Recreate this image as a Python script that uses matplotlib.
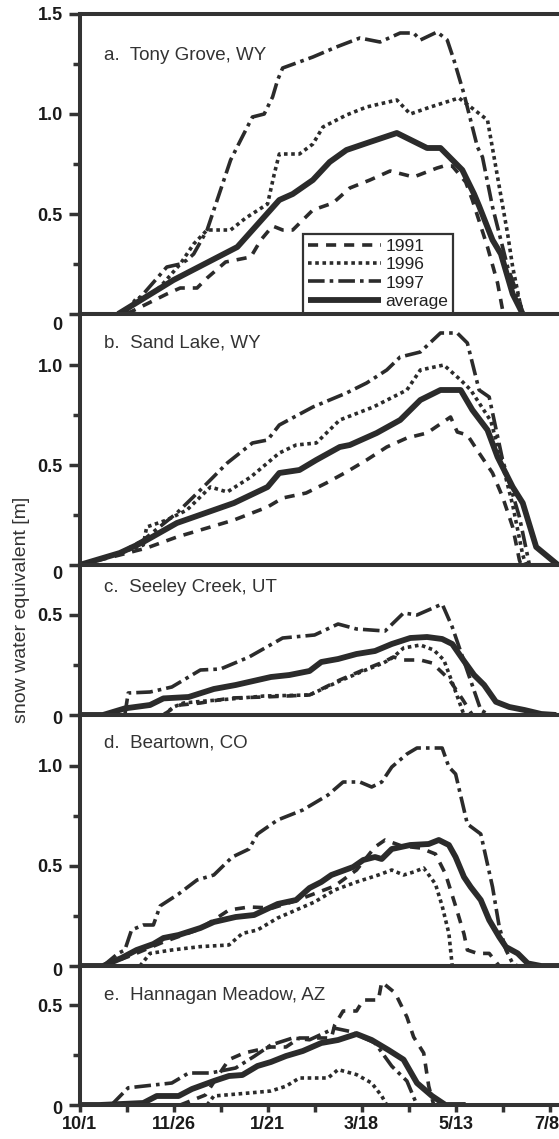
import matplotlib
matplotlib.use('Agg')
import matplotlib.pyplot as plt
import matplotlib.transforms as mtransforms

plt.rcParams['font.family'] = ['Liberation Sans', 'DejaVu Sans']

# ---------------- data (days since 10/1, snow water equivalent in m) -------------
tick_days = [0, 28, 56, 84, 112, 140, 168, 196, 224, 252, 280]
tick_labels = ['10/1', '', '11/26', '', '1/21', '', '3/18', '', '5/13', '', '7/8']
series_names = ['1991', '1996', '1997', 'average']

# a. Tony Grove, WY
a_1991_day = [28, 40, 52, 60, 70, 76, 87, 102, 108, 115, 121, 127, 139, 151, 161, 173, 185, 199, 213, 217, 222, 230, 234, 243, 249, 252, 253]
a_1991_swe = [0, 0.05, 0.10, 0.13, 0.13, 0.18, 0.26, 0.285, 0.37, 0.44, 0.42, 0.42, 0.52, 0.555, 0.63, 0.67, 0.715, 0.685, 0.73, 0.74, 0.74, 0.66, 0.57, 0.335, 0.155, 0.02, 0]
a_1996_day = [27, 34, 40, 48, 60, 68, 76, 90, 99, 112, 116, 119, 131, 139, 145, 159, 171, 189, 197, 209, 226, 243, 249, 255, 258, 262, 264]
a_1996_swe = [0, 0.08, 0.085, 0.135, 0.25, 0.35, 0.42, 0.42, 0.48, 0.55, 0.70, 0.80, 0.80, 0.85, 0.935, 0.995, 1.035, 1.07, 1.0, 1.035, 1.08, 0.97, 0.685, 0.40, 0.235, 0.07, 0]
a_1997_day = [26, 38, 52, 60, 64, 68, 76, 82, 90, 96, 103, 110, 115, 118, 121, 139, 153, 167, 179, 191, 199, 203, 213, 219, 223, 229, 237, 240, 246, 255, 262, 264]
a_1997_swe = [0, 0.10, 0.235, 0.25, 0.27, 0.30, 0.42, 0.57, 0.77, 0.87, 0.985, 1.0, 1.085, 1.17, 1.23, 1.285, 1.335, 1.38, 1.36, 1.405, 1.405, 1.37, 1.41, 1.37, 1.27, 1.10, 0.835, 0.785, 0.535, 0.235, 0.07, 0]
a_avg_day = [23, 56, 94, 119, 127, 139, 149, 159, 173, 189, 207, 215, 228, 235, 238, 246, 251, 258, 264]
a_avg_swe = [0, 0.17, 0.335, 0.57, 0.60, 0.67, 0.76, 0.82, 0.86, 0.905, 0.83, 0.83, 0.72, 0.60, 0.54, 0.37, 0.30, 0.10, 0]

# b. Sand Lake, WY
b_1991_day = [0, 24, 40, 58, 72, 92, 112, 121, 135, 147, 159, 171, 183, 195, 207, 221, 225, 231, 238, 246, 252, 258, 262, 263]
b_1991_swe = [0, 0.05, 0.085, 0.14, 0.175, 0.225, 0.29, 0.335, 0.36, 0.41, 0.465, 0.525, 0.59, 0.635, 0.66, 0.74, 0.665, 0.65, 0.56, 0.46, 0.34, 0.19, 0.025, 0]
b_1996_day = [0, 24, 38, 40, 52, 64, 78, 88, 102, 119, 129, 141, 155, 175, 195, 203, 217, 227, 233, 245, 252, 258, 264, 266]
b_1996_swe = [0, 0.06, 0.10, 0.19, 0.225, 0.275, 0.39, 0.365, 0.44, 0.56, 0.60, 0.61, 0.725, 0.79, 0.875, 0.975, 1.0, 0.925, 0.875, 0.72, 0.5, 0.3, 0.05, 0]
b_1997_day = [0, 24, 38, 58, 72, 88, 103, 112, 119, 139, 159, 171, 183, 191, 203, 215, 225, 231, 238, 244, 252, 262, 268]
b_1997_swe = [0, 0.06, 0.125, 0.26, 0.375, 0.51, 0.61, 0.625, 0.70, 0.79, 0.86, 0.91, 0.975, 1.04, 1.065, 1.16, 1.16, 1.11, 0.875, 0.84, 0.525, 0.24, 0]
b_avg_day = [0, 24, 38, 58, 92, 112, 119, 131, 141, 155, 161, 177, 191, 203, 215, 227, 234, 243, 249, 258, 264, 272, 285]
b_avg_swe = [0, 0.06, 0.115, 0.21, 0.31, 0.39, 0.46, 0.475, 0.525, 0.59, 0.60, 0.66, 0.725, 0.825, 0.875, 0.875, 0.775, 0.675, 0.54, 0.39, 0.31, 0.09, 0.0]

# c. Seeley Creek, UT
c_1991_day = [50, 55, 60, 72, 90, 110, 137, 155, 169, 181, 187, 193, 203, 210, 220, 228, 234]
c_1991_swe = [0, 0.03, 0.05, 0.06, 0.085, 0.09, 0.10, 0.175, 0.225, 0.265, 0.29, 0.275, 0.275, 0.26, 0.18, 0.08, 0]
c_1996_day = [50, 56, 62, 75, 90, 110, 137, 155, 169, 181, 187, 193, 203, 211, 217, 223, 229]
c_1996_swe = [0, 0.04, 0.06, 0.07, 0.08, 0.095, 0.10, 0.17, 0.22, 0.26, 0.29, 0.335, 0.35, 0.325, 0.275, 0.14, 0]
c_1997_day = [27, 29, 42, 55, 72, 84, 101, 121, 140, 154, 165, 182, 193, 201, 216, 222, 231, 239, 244]
c_1997_swe = [0, 0.11, 0.115, 0.14, 0.225, 0.23, 0.29, 0.385, 0.40, 0.455, 0.43, 0.42, 0.51, 0.50, 0.555, 0.44, 0.22, 0.025, 0]
c_avg_day = [0, 14, 27, 42, 50, 65, 80, 93, 114, 125, 137, 144, 154, 165, 176, 186, 197, 207, 216, 222, 229, 235, 241, 248, 256, 265, 275, 284]
c_avg_swe = [0, 0, 0.033, 0.05, 0.083, 0.09, 0.13, 0.15, 0.19, 0.20, 0.22, 0.265, 0.28, 0.305, 0.32, 0.355, 0.385, 0.39, 0.38, 0.355, 0.27, 0.20, 0.15, 0.066, 0.04, 0.025, 0.005, 0]

# d. Beartown, CO
d_1991_day = [14, 30, 50, 70, 80, 89, 101, 115, 130, 152, 165, 176, 182, 192, 203, 212, 218, 224, 229, 231, 237, 244, 250]
d_1991_swe = [0, 0.05, 0.12, 0.18, 0.23, 0.28, 0.295, 0.29, 0.33, 0.40, 0.48, 0.595, 0.63, 0.60, 0.59, 0.56, 0.46, 0.30, 0.16, 0.08, 0.063, 0.063, 0]
d_1996_day = [36, 42, 55, 72, 89, 97, 106, 118, 129, 140, 152, 165, 178, 186, 193, 199, 205, 212, 216, 220, 222]
d_1996_swe = [0, 0.063, 0.08, 0.097, 0.105, 0.163, 0.18, 0.24, 0.28, 0.32, 0.38, 0.42, 0.455, 0.48, 0.455, 0.47, 0.49, 0.41, 0.30, 0.163, 0]
d_1997_day = [14, 23, 27, 31, 38, 44, 48, 59, 70, 80, 91, 101, 106, 118, 133, 148, 157, 167, 174, 180, 186, 195, 201, 216, 220, 224, 231, 239, 246, 250, 254, 258, 261]
d_1997_swe = [0, 0.063, 0.08, 0.18, 0.205, 0.205, 0.30, 0.36, 0.43, 0.455, 0.545, 0.585, 0.66, 0.73, 0.78, 0.855, 0.92, 0.92, 0.895, 0.92, 0.995, 1.06, 1.09, 1.09, 0.995, 0.96, 0.71, 0.66, 0.395, 0.196, 0.08, 0.013, 0]
d_avg_day = [0, 14, 25, 34, 44, 50, 59, 72, 80, 93, 104, 118, 129, 137, 144, 150, 163, 169, 176, 180, 186, 197, 208, 214, 220, 224, 229, 233, 239, 244, 250, 254, 261, 267, 275, 290]
d_avg_swe = [0, 0, 0.04, 0.08, 0.11, 0.14, 0.155, 0.19, 0.22, 0.245, 0.255, 0.31, 0.33, 0.39, 0.42, 0.455, 0.495, 0.53, 0.545, 0.535, 0.585, 0.605, 0.61, 0.63, 0.605, 0.545, 0.445, 0.395, 0.33, 0.23, 0.145, 0.095, 0.063, 0.013, 0, 0]

# e. Hannagan Meadow, AZ
e_1991_day = [60, 75, 82, 89, 98, 114, 123, 131, 150, 152, 157, 165, 169, 178, 180, 188, 195, 199, 205, 208, 211]
e_1991_swe = [0, 0.05, 0.14, 0.227, 0.26, 0.29, 0.29, 0.335, 0.335, 0.40, 0.47, 0.47, 0.525, 0.525, 0.615, 0.56, 0.44, 0.34, 0.26, 0.094, 0]
e_1996_day = [76, 80, 101, 114, 123, 131, 148, 154, 165, 174, 180, 183]
e_1996_swe = [0, 0.045, 0.06, 0.07, 0.094, 0.135, 0.135, 0.177, 0.152, 0.11, 0.045, 0]
e_1997_day = [19, 29, 55, 65, 78, 93, 104, 114, 127, 137, 152, 161, 176, 186, 195, 201]
e_1997_swe = [0, 0.086, 0.11, 0.16, 0.16, 0.185, 0.243, 0.30, 0.335, 0.326, 0.384, 0.368, 0.31, 0.194, 0.12, 0]
e_avg_day = [0, 12, 38, 46, 59, 67, 80, 89, 97, 106, 114, 123, 133, 144, 154, 165, 174, 184, 193, 201, 210, 218, 230]
e_avg_swe = [0, 0, 0.01, 0.045, 0.045, 0.08, 0.12, 0.145, 0.15, 0.195, 0.215, 0.245, 0.27, 0.31, 0.325, 0.355, 0.325, 0.275, 0.227, 0.11, 0.045, 0, 0]

panel_titles = ['a.  Tony Grove, WY', 'b.  Sand Lake, WY', 'c.  Seeley Creek, UT',
                'd.  Beartown, CO', 'e.  Hannagan Meadow, AZ']
panel_ymax = [1.5, 1.255, 0.75, 1.255, 0.695]
panel_major = [[0, 0.5, 1.0, 1.5], [0, 0.5, 1.0], [0, 0.5], [0, 0.5, 1.0], [0, 0.5]]
panel_major_lbl = [['0', '0.5', '1.0', '1.5'], ['0', '0.5', '1.0'], ['0', '0.5'],
                   ['0', '0.5', '1.0'], ['0', '0.5']]
panel_minor = [[0.25, 0.75, 1.25], [0.25, 0.75], [0.25], [0.25, 0.75], [0.25]]
panel_data = [
    [(a_1991_day, a_1991_swe), (a_1996_day, a_1996_swe), (a_1997_day, a_1997_swe), (a_avg_day, a_avg_swe)],
    [(b_1991_day, b_1991_swe), (b_1996_day, b_1996_swe), (b_1997_day, b_1997_swe), (b_avg_day, b_avg_swe)],
    [(c_1991_day, c_1991_swe), (c_1996_day, c_1996_swe), (c_1997_day, c_1997_swe), (c_avg_day, c_avg_swe)],
    [(d_1991_day, d_1991_swe), (d_1996_day, d_1996_swe), (d_1997_day, d_1997_swe), (d_avg_day, d_avg_swe)],
    [(e_1991_day, e_1991_swe), (e_1996_day, e_1996_swe), (e_1997_day, e_1997_swe), (e_avg_day, e_avg_swe)],
]

# ---------------- layout / style ----------------
W, H, DPI = 559, 1139, 100
INK = '#2b2b2b'
LEFT_PX = 79.5
PX_PER_DAY = 1.679
XMAX = 300
panel_px = [(14, 314), (314, 565), (565, 715), (715, 966), (966, 1105)]
title_y_px = [55, 343, 587, 743, 995]
zero_offset_px = [9, 7, 3, 4, 3]

styles = {
    '1991': dict(lw=2.6, dashes=(2.8, 2.2)),
    '1996': dict(lw=2.6, dashes=(1.0, 1.0)),
    '1997': dict(lw=2.6, dashes=(4.6, 1.4, 1.0, 1.4)),
    'average': dict(lw=4.2, solid_capstyle='butt', solid_joinstyle='round'),
}

fig = plt.figure(figsize=(W / DPI, H / DPI), dpi=DPI)
aw = XMAX * PX_PER_DAY

axes = []
for i in range(5):
    top, bot = panel_px[i]
    ax = fig.add_axes([LEFT_PX / W, 1 - bot / H, aw / W, (bot - top) / H])
    axes.append(ax)
    ax.set_xlim(0, XMAX)
    ax.set_ylim(0, panel_ymax[i])
    for name, (dd, vv) in zip(series_names, panel_data[i]):
        ax.plot(dd, vv, color=INK, label=name, **styles[name])
    for sp in ax.spines.values():
        sp.set_linewidth(2.9)
        sp.set_color('#333333')
        sp.set_zorder(3)
    ax.set_yticks(panel_major[i])
    ax.set_yticklabels(panel_major_lbl[i], fontweight='bold', fontsize=13, color='#1a1a1a')
    ax.set_yticks(panel_minor[i], minor=True)
    ax.tick_params(axis='y', which='major', direction='out', length=8, width=2.5,
                   pad=4, color='#333333')
    ax.tick_params(axis='y', which='minor', direction='out', length=5, width=2.5,
                   color='#333333')
    ax.set_xticks(tick_days)
    ax.tick_params(axis='x', which='major', direction='out', length=5, width=2.5,
                   pad=3, color='#333333')
    if i == 4:
        ax.set_xticklabels(tick_labels, fontweight='bold', fontsize=13, color='#1a1a1a')
        last = ax.xaxis.get_major_ticks()[-1]
        shift = mtransforms.ScaledTranslation(-3 / DPI, 0, fig.dpi_scale_trans)
        last.label1.set_transform(last.label1.get_transform() + shift)
    else:
        ax.tick_params(axis='x', labelbottom=False)
    # shift the "0" label slightly downward like the original
    off = mtransforms.ScaledTranslation(0, -zero_offset_px[i] / DPI, fig.dpi_scale_trans)
    t0 = ax.yaxis.get_major_ticks()[0]
    t0.label1.set_transform(t0.label1.get_transform() + off)
    fig.text(104 / W, 1 - title_y_px[i] / H, panel_titles[i], fontsize=13.5,
             color='#333333', ha='left', va='center')

# legend in panel a
leg = axes[0].legend(loc='lower left', bbox_to_anchor=(133, 0),
                     bbox_transform=axes[0].transData, borderaxespad=0,
                     frameon=True, fancybox=False, framealpha=1, edgecolor='#333333',
                     fontsize=12.5, handlelength=4.2, handletextpad=0.25,
                     labelspacing=0.18, borderpad=0.3)
leg.get_frame().set_linewidth(1.6)
for t in leg.get_texts():
    t.set_color('#222222')

fig.text(22 / W, 1 - 610 / H, 'snow water equivalent [m]', rotation=90,
         ha='center', va='center', fontsize=14, color='#333333')

fig.savefig('out.png', dpi=DPI)
